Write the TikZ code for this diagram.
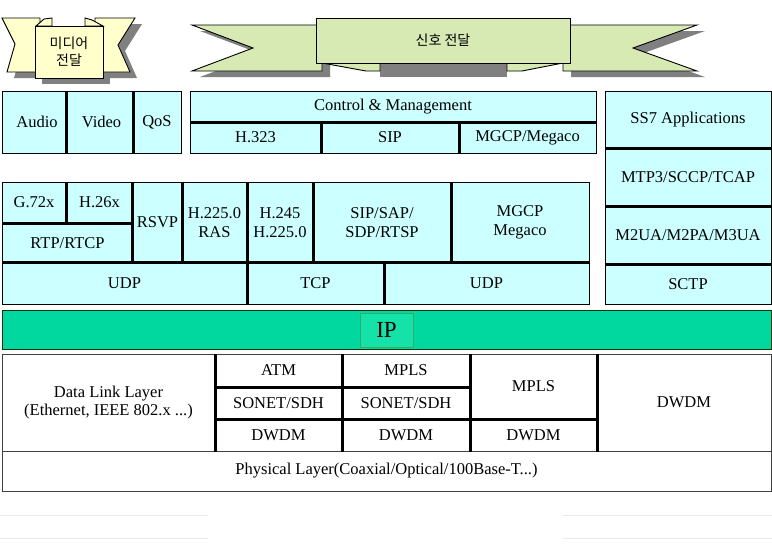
\documentclass[tikz,border=0pt]{standalone}
\usepackage{fontspec}
\setmainfont{Liberation Serif}
\newfontfamily\kor{Noto Sans CJK KR}
\definecolor{cellbg}{HTML}{CCFFFF}
\definecolor{ribyel}{HTML}{FFFFCC}
\definecolor{ribgrn}{HTML}{D8EAB4}
\definecolor{shgray}{HTML}{808080}
\definecolor{ipgrn}{HTML}{00D8A0}
\definecolor{ipbox}{HTML}{14E2A8}
\definecolor{ipedge}{HTML}{2EB060}
\tikzset{
  cell/.style={draw=black, fill=cellbg, line width=1pt, inner sep=0pt, align=center,
    font=\fontsize{16.5}{18.5}\selectfont},
  lowcell/.style={cell, fill=white, draw=black!75},
  div/.style={line width=2.2pt, line cap=butt},
  ribbon/.style={draw=black, line width=0.9pt, line join=miter},
  ribbonbox/.style={draw=black, line width=0.9pt, inner sep=0pt, align=center,
    font=\kor\fontsize{14}{17}\selectfont},
  faint/.style={draw=black!8, line width=1pt},
}
\newcommand\cellbox[7][cell]{%
  \node[#1, minimum width={(#5-#3)*1pt}, minimum height={(#6-#4)*1pt}]
    (#2) at ({(#3+#5)/2},{(#4+#6)/2}) {#7};}
\begin{document}
\begin{tikzpicture}[x=1pt,y=-1pt]
\useasboundingbox (0,0) rectangle (772,557);
\fill[white] (0,0) rectangle (772,557);

% ---------- media ribbon ----------
\begin{scope}[shift={(7,6)}]
  \fill[shgray] (2,18) -- (40,18) -- (40,72) -- (7,72) -- (15,44) -- cycle;
  \fill[shgray] (95,18) -- (135,18) -- (118,45) -- (130,72) -- (95,72) -- cycle;
  \fill[shgray] (35,26) rectangle (103,78);
\end{scope}
\filldraw[ribbon, fill=ribyel] (2,18) -- (40,18) -- (40,72) -- (7,72) -- (15,44) -- cycle;
\filldraw[ribbon, fill=ribyel] (95,18) -- (135,18) -- (118,45) -- (130,72) -- (95,72) -- cycle;
\filldraw[ribbon, fill=ribyel] (36,26) -- (44,19) -- (52,18) -- (52,26) -- cycle;
\filldraw[ribbon, fill=ribyel] (85,26) -- (85,18) -- (92,20) -- (103,26) -- cycle;
\node[ribbonbox, fill=ribyel, minimum width=68pt, minimum height=52pt] (media) at (69,52) {미디어\\전달};

% ---------- signal ribbon ----------
\begin{scope}[shift={(8,6)}]
  \fill[shgray] (192,25) -- (322,25) -- (322,71) -- (192,71) -- (253,48) -- cycle;
  \fill[shgray] (563,25) -- (697,25) -- (633,48) -- (697,71) -- (563,71) -- cycle;
\end{scope}
\fill[shgray] (380,63) rectangle (507,77);
\filldraw[ribbon, fill=ribgrn] (192,25) -- (322,25) -- (322,71) -- (192,71) -- (253,48) -- cycle;
\filldraw[ribbon, fill=ribgrn] (563,25) -- (697,25) -- (633,48) -- (697,71) -- (563,71) -- cycle;
\filldraw[ribbon, fill=ribgrn] (322,63) -- (380,63) -- (380,71) -- (366,71) -- cycle;
\filldraw[ribbon, fill=ribgrn] (507,63) -- (563,63) -- (522,71) -- (507,71) -- cycle;
\node[ribbonbox, fill=ribgrn, minimum width=254pt, minimum height=45pt] (signal) at (443,40.5) {신호 전달};

% ---------- upper protocol blocks ----------
\cellbox{audio}{2}{91}{66}{153}{\hspace*{6pt}Audio}
\cellbox{video}{66}{91}{133}{153}{\hspace*{4pt}Video}
\cellbox{qos}{133}{91}{181}{153}{QoS}
\cellbox{ctrl}{190}{91}{596}{122}{Control \& Management}
\cellbox{hthree}{190}{122}{321}{153}{H.323}
\cellbox{sip}{321}{122}{459}{153}{SIP}
\cellbox{mgcpa}{459}{122}{596}{153}{MGCP/Megaco}
\cellbox{ssseven}{605}{91}{771}{148}{SS7 Applications}
\cellbox{mtp}{605}{148}{771}{206}{MTP3/SCCP/TCAP}
\cellbox{mtwo}{605}{206}{771}{264}{M2UA/M2PA/M3UA}
\cellbox{sctp}{605}{264}{771}{304}{SCTP}

\cellbox{gsev}{2}{182}{66}{223}{G.72x}
\cellbox{htwo}{66}{182}{133}{223}{H.26x}
\cellbox{rtp}{2}{223}{133}{263}{RTP/RTCP}
\cellbox{rsvp}{133}{182}{182}{263}{RSVP}
\cellbox{ras}{182}{182}{247}{263}{H.225.0\\RAS}
\cellbox{hfour}{247}{182}{313}{263}{H.245\\H.225.0}
\cellbox{sipsap}{313}{182}{451}{263}{SIP/SAP/\\SDP/RTSP}
\cellbox{mgcpb}{451}{182}{589}{263}{MGCP\\Megaco}
\cellbox{udpa}{2}{263}{247}{304}{UDP}
\cellbox{tcp}{247}{263}{384}{304}{TCP}
\cellbox{udpb}{384}{263}{589}{304}{UDP}

\draw[div] (audio.north east) -- (audio.south east);
\draw[div] (video.north east) -- (video.south east);
\draw[div] (ctrl.south west) -- (ctrl.south east);
\draw[div] (hthree.north east) -- (hthree.south east);
\draw[div] (sip.north east) -- (sip.south east);
\draw[div] (ssseven.south west) -- (ssseven.south east);
\draw[div] (mtp.south west) -- (mtp.south east);
\draw[div] (mtwo.south west) -- (mtwo.south east);
\draw[div] (gsev.north east) -- (gsev.south east);
\draw[div] (gsev.south west) -- (htwo.south east);
\draw[div] (rsvp.north west) -- (rsvp.south west);
\draw[div] (rsvp.north east) -- (rsvp.south east);
\draw[div] (ras.north east) -- (ras.south east);
\draw[div] (hfour.north east) -- (hfour.south east);
\draw[div] (sipsap.north east) -- (sipsap.south east);
\draw[div] (udpa.north west) -- (udpb.north east);
\draw[div] (udpa.north east) -- (udpa.south east);
\draw[div] (tcp.north east) -- (tcp.south east);

% ---------- IP ----------
\node[draw=black!80!green, line width=1pt, fill=ipgrn, minimum width=769pt, minimum height=39pt, inner sep=0pt]
  (ipbar) at (386.5,329.5) {};
\node[draw=ipedge, line width=0.8pt, fill=ipbox, minimum width=53pt, minimum height=34pt, inner sep=0pt,
  font=\fontsize{23}{25}\selectfont] (ip) at (386.5,330) {IP};

% ---------- lower blocks ----------
\cellbox[lowcell]{dll}{2}{354}{215}{451}{Data Link Layer\\(Ethernet, IEEE 802.x ...)}
\cellbox[lowcell]{atm}{215}{354}{342}{387}{ATM}
\cellbox[lowcell]{sonetA}{215}{387}{342}{419}{SONET/SDH}
\cellbox[lowcell]{dwdmA}{215}{419}{342}{451}{DWDM}
\cellbox[lowcell]{mplsA}{342}{354}{470}{387}{MPLS}
\cellbox[lowcell]{sonetB}{342}{387}{470}{419}{SONET/SDH}
\cellbox[lowcell]{dwdmB}{342}{419}{470}{451}{DWDM}
\cellbox[lowcell]{mplsB}{470}{354}{597}{419}{MPLS}
\cellbox[lowcell]{dwdmC}{470}{419}{597}{451}{DWDM}
\cellbox[lowcell]{dwdmD}{597}{354}{771}{451}{DWDM}
\cellbox[lowcell]{phys}{2}{451}{771}{491}{Physical Layer(Coaxial/Optical/100Base-T...)}

\draw[div] (dll.north east) -- (dll.south east);
\draw[div] (atm.north east) -- (dwdmA.south east);
\draw[div] (mplsA.north east) -- (dwdmB.south east);
\draw[div] (mplsB.north east) -- (dwdmC.south east);
\draw[div] (atm.south west) -- (mplsA.south east);
\draw[div] (sonetA.south west) -- (mplsB.south east);

% ---------- faint rules below ----------
\coordinate (fa1) at (0,515); \coordinate (fa2) at (208,515);
\coordinate (fa3) at (563,515); \coordinate (fa4) at (772,515);
\coordinate (fb1) at (0,538); \coordinate (fb2) at (208,538);
\coordinate (fb3) at (563,538); \coordinate (fb4) at (772,538);
\draw[faint] (fa1) -- (fa2); \draw[faint] (fa3) -- (fa4);
\draw[faint] (fb1) -- (fb2); \draw[faint] (fb3) -- (fb4);
\end{tikzpicture}
\end{document}
